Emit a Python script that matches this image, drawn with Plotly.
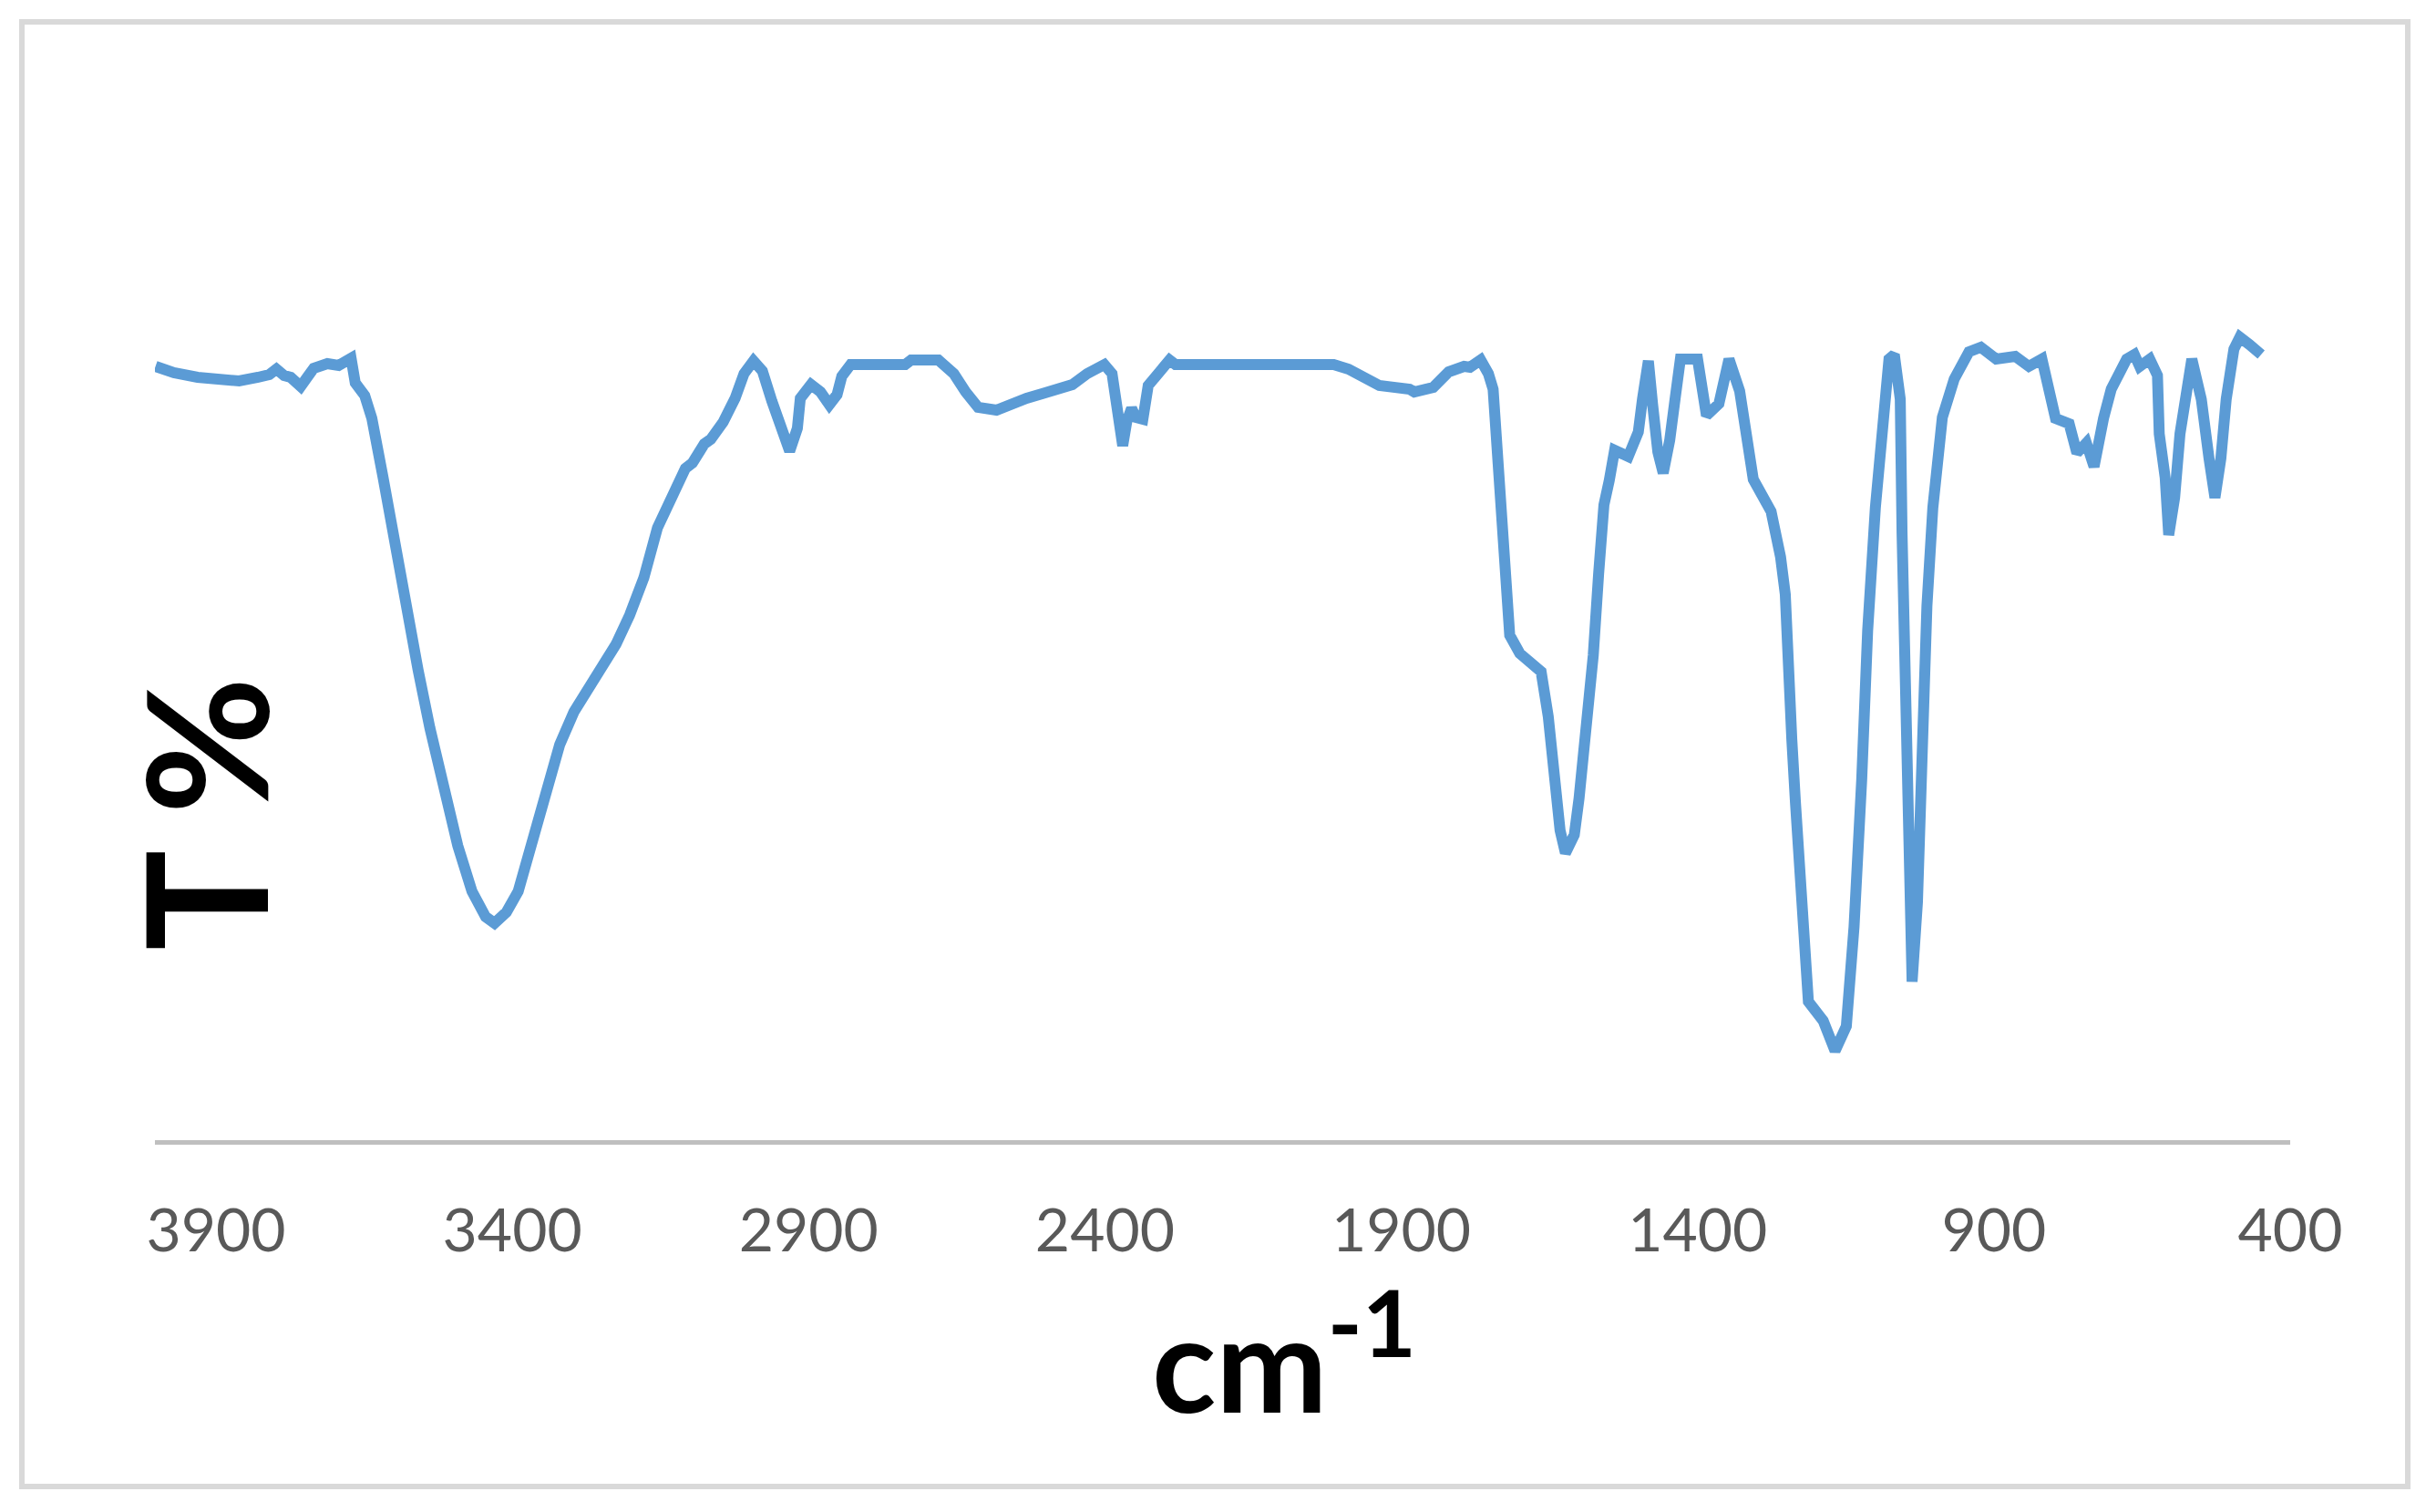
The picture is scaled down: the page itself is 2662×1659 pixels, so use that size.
import plotly.graph_objects as go

# ---- data (FT-IR spectrum) ----
wavenumber = [
    4002, 3971, 3931, 3892, 3861, 3829, 3810, 3798, 3785, 3774, 3757, 3745, 3735,
    3712, 3693, 3672, 3665, 3649, 3637, 3618, 3599, 3579, 3559, 3539, 3516, 3492,
    3468, 3445, 3430, 3410, 3390, 3367, 3343, 3320, 3296, 3265, 3225, 3202, 3178,
    3155, 3131, 3108, 3096, 3076, 3065, 3044, 3024, 3009, 2993, 2978, 2962, 2947,
    2932, 2919, 2914, 2896, 2880, 2865, 2852, 2844, 2829, 2737, 2727, 2681, 2655,
    2635, 2614, 2583, 2558, 2532, 2506, 2481, 2455, 2430, 2401, 2388, 2380, 2370,
    2363, 2355, 2348, 2336, 2327, 2311, 2291, 2281, 2014, 1989, 1963, 1937, 1886,
    1878, 1846, 1820, 1794, 1784, 1766, 1753, 1745, 1740, 1735, 1731, 1723, 1717,
    1700, 1664, 1652, 1641, 1632, 1623, 1608, 1600, 1588, 1576, 1567, 1558, 1549,
    1540, 1517, 1500, 1493, 1483, 1476, 1467, 1458, 1447, 1438, 1429, 1400, 1385,
    1364, 1347, 1329, 1317, 1306, 1276, 1260, 1252, 1246, 1241, 1235, 1223, 1213,
    1188, 1168, 1149, 1136, 1123, 1113, 1100, 1087, 1077, 1068, 1058, 1055, 1048,
    1042, 1038, 1029, 1022, 1013, 1003, 987, 967, 942, 922, 896, 864, 841, 819,
    806, 796, 773, 760, 744, 731, 715, 702, 676, 663, 654, 637, 624, 621, 611, 605,
    595, 586, 566, 550, 537, 527, 517, 508, 495, 485, 469, 449,
]
transmittance = [
    84.9, 84.2, 83.7, 83.4, 83.3, 83.7, 84.0, 84.6, 83.9, 83.7, 82.7, 83.8, 84.7,
    85.2, 85.0, 85.8, 83.1, 81.7, 79.2, 72.7, 65.4, 59.0, 51.6, 45.2, 38.3, 32.3,
    27.3, 24.5, 23.8, 25.0, 27.3, 32.3, 37.8, 43.4, 47.0, 50.2, 54.4, 57.6, 61.7,
    67.2, 70.9, 73.7, 74.3, 76.4, 76.9, 78.8, 81.4, 84.1, 85.5, 84.4, 81.1, 78.4,
    75.6, 78.1, 81.4, 82.9, 82.1, 80.7, 81.8, 83.8, 85.1, 85.1, 85.6, 85.6, 84.1,
    82.1, 80.4, 80.1, 80.9, 81.4, 81.9, 82.3, 82.9, 84.1, 85.1, 84.1, 80.8, 76.2,
    78.9, 80.3, 79.3, 79.1, 82.8, 84.1, 85.6, 85.1, 85.1, 84.6, 83.8, 82.8, 82.4,
    82.1, 82.6, 84.3, 84.9, 84.8, 85.6, 84.1, 82.4, 77.5, 73.0, 66.6, 59.9, 55.4,
    53.4, 51.4, 46.5, 39.8, 34.0, 31.5, 33.5, 37.5, 44.2, 53.2, 62.1, 69.7, 72.4,
    75.7, 75.0, 77.7, 81.3, 85.5, 80.8, 75.5, 73.2, 76.8, 81.3, 85.7, 85.7, 79.5,
    80.8, 85.7, 82.2, 76.8, 72.5, 69.0, 64.0, 59.9, 48.5, 44.0, 37.2, 24.9, 15.2,
    13.1, 9.8, 12.5, 23.4, 39.6, 55.9, 69.4, 80.3, 85.7, 86.2, 81.3, 66.7, 42.3,
    26.1, 17.4, 26.1, 42.3, 58.6, 69.4, 79.3, 83.5, 86.5, 87.0, 85.7, 86.0, 84.9, 85.7,
    82.4, 79.2, 78.6, 75.4, 76.5, 73.9, 79.2, 82.4, 85.7, 86.2, 84.9, 85.7, 83.9, 77.5, 72.7, 66.4,
    70.5, 77.5, 85.7, 81.3, 74.8, 70.5, 74.8, 81.3, 86.8, 88.1, 87.3, 86.2,
]
tick_values = [3900, 3400, 2900, 2400, 1900, 1400, 900, 400]
tick_labels = ["3900", "3400", "2900", "2400", "1900", "1400", "900", "400"]
x_title = "cm<sup>-1</sup>"
y_title = "T %"

# ---- layout geometry (page pixels; the page body has an 8px margin) ----
OFF = 8
PAGE_W, PAGE_H = 2662, 1659
W, H = PAGE_W - 2 * OFF, PAGE_H - 2 * OFF
PLOT_LEFT, PLOT_RIGHT, PLOT_TOP, PLOT_BOTTOM = 170, 2513, 251, 1251  # page px
L = PLOT_LEFT - OFF
T = PLOT_TOP - OFF
R = W - (PLOT_RIGHT - OFF)
B = H - (PLOT_BOTTOM - OFF)
PW, PH = PLOT_RIGHT - PLOT_LEFT, PLOT_BOTTOM - PLOT_TOP


def px_to_paper_x(px):
    return (px - PLOT_LEFT) / PW


def px_to_paper_y(py):
    return (PLOT_BOTTOM - py) / PH


fig = go.Figure(
    go.Scatter(
        x=wavenumber,
        y=transmittance,
        mode="lines",
        line=dict(color="#5B9BD5", width=12),
        hoverinfo="skip",
        showlegend=False,
    )
)

fig.update_layout(
    width=W,
    height=H,
    autosize=False,
    margin=dict(l=L, r=R, t=T, b=B, pad=0),
    paper_bgcolor="white",
    plot_bgcolor="white",
    font=dict(family="Lato, 'Open Sans', sans-serif"),
    xaxis=dict(
        range=[4003, 400],
        tickvals=tick_values,
        ticktext=tick_labels,
        ticks="",
        showgrid=False,
        zeroline=False,
        showline=True,
        linecolor="#BFBFBF",
        linewidth=5,
        tickfont=dict(family="Lato", size=66, color="#595959"),
        ticklabelstandoff=38,
    ),
    yaxis=dict(
        range=[0, 100],
        showgrid=False,
        zeroline=False,
        showline=False,
        showticklabels=False,
        ticks="",
    ),
    shapes=[
        dict(
            type="rect",
            xref="paper",
            yref="paper",
            x0=px_to_paper_x(24),
            x1=px_to_paper_x(2642),
            y0=px_to_paper_y(1631),
            y1=px_to_paper_y(24),
            line=dict(color="#D9D9D9", width=6),
            fillcolor="rgba(0,0,0,0)",
            layer="below",
        )
    ],
    annotations=[
        dict(
            text=y_title,
            xref="paper",
            yref="paper",
            x=px_to_paper_x(222),
            y=px_to_paper_y(893),
            xanchor="center",
            yanchor="middle",
            textangle=-90,
            showarrow=False,
            font=dict(family="Lato", size=184, color="black", weight="bold"),
        ),
        dict(
            text=x_title,
            xref="paper",
            yref="paper",
            x=px_to_paper_x(1262),
            y=px_to_paper_y(1484),
            xanchor="left",
            yanchor="middle",
            showarrow=False,
            font=dict(family="Lato", size=146, color="black", weight="bold"),
        ),
    ],
)

fig.write_html("out.html")
